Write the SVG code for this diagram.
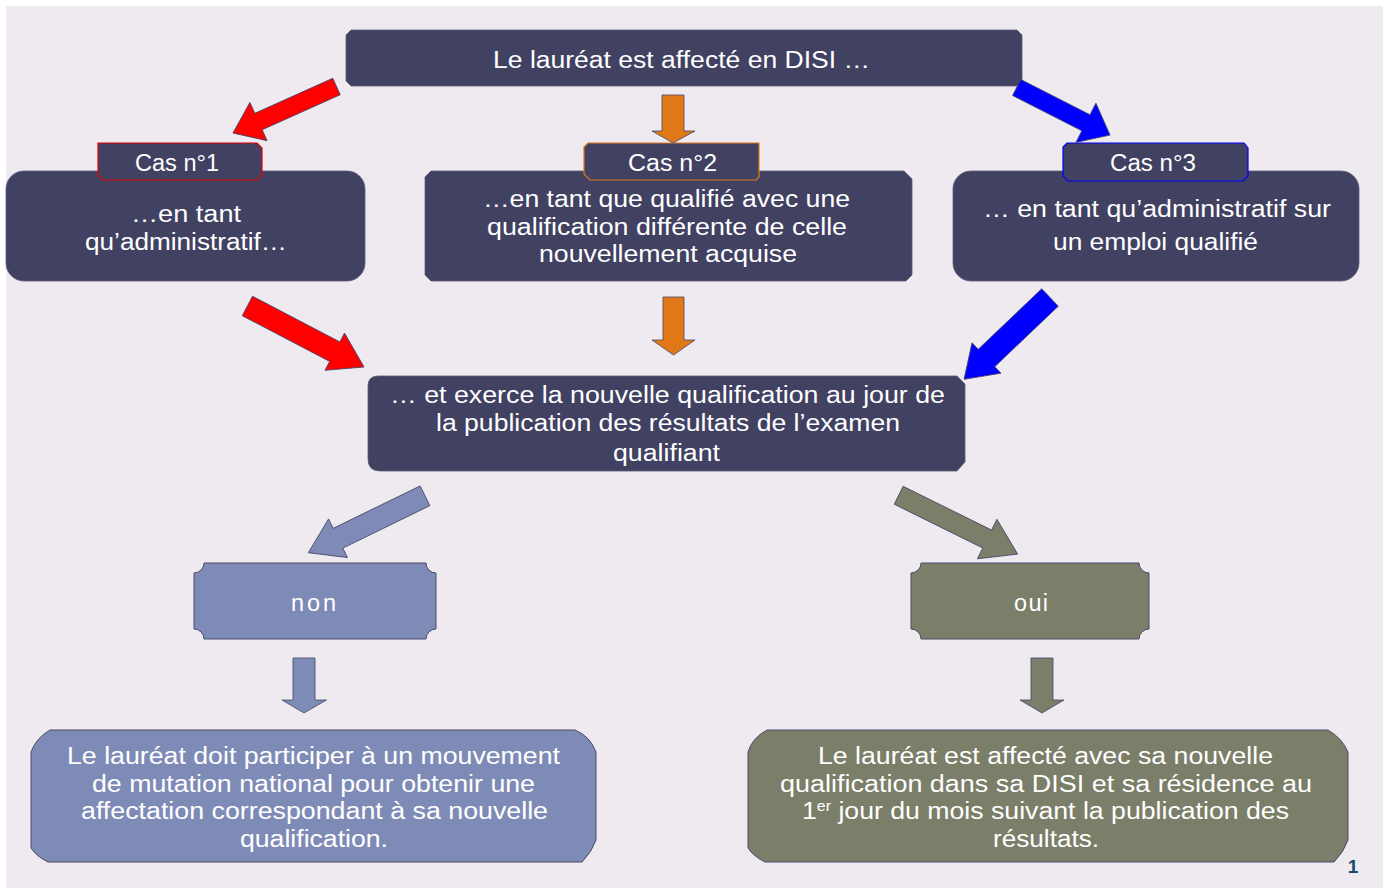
<svg xmlns="http://www.w3.org/2000/svg" width="1388" height="888" viewBox="0 0 1388 888">
<style>
.dark{fill:#414162;stroke:#5c5c7c;stroke-width:0.8}
.blue{fill:#7f8bb7;stroke:#4a4a6a;stroke-width:1}
.olive{fill:#7b7e68;stroke:#4a4a6a;stroke-width:1}
.t{font-family:"Liberation Sans",Arial,sans-serif;font-size:23.5px;fill:#ffffff;text-anchor:middle}
.arr{stroke:#45456a;stroke-width:0.8}
</style>
<rect x="0" y="0" width="1388" height="888" fill="#ffffff"/>
<rect x="6" y="6" width="1377" height="882" fill="#efeaef"/>

<g id="top">
<path class="dark" d="M351,30 H1017 L1022,35 V81 L1017,86 H351 L346,81 V35 Z"/>
<text class="t" x="681.5" y="68" textLength="377" lengthAdjust="spacingAndGlyphs">Le lauréat est affecté en DISI …</text>
</g>

<g id="cas1">
<rect class="dark" x="6" y="171" width="359" height="110" rx="18" ry="18"/>
<text class="t" x="186" y="222" textLength="110" lengthAdjust="spacingAndGlyphs">…en tant</text>
<text class="t" x="186" y="250" textLength="202" lengthAdjust="spacingAndGlyphs">qu’administratif…</text>
<path class="dark" style="stroke:#e00000;stroke-width:1.2" d="M98,143 H257 L262,148 V175 L257,180 H103 L98,175 Z"/>
<text class="t" x="177" y="171" textLength="84" lengthAdjust="spacingAndGlyphs">Cas n°1</text>
</g>

<g id="cas2">
<path class="dark" d="M431,171 H904 L912,179 V275 L906,281 H431 L425,275 V177 Z"/>
<text class="t" x="666.5" y="207" textLength="367" lengthAdjust="spacingAndGlyphs">…en tant que qualifié avec une</text>
<text class="t" x="667" y="235" textLength="360" lengthAdjust="spacingAndGlyphs">qualification différente de celle</text>
<text class="t" x="668" y="262" textLength="258" lengthAdjust="spacingAndGlyphs">nouvellement acquise</text>
<path class="dark" style="stroke:#e07818;stroke-width:1.2" d="M588,143 H759 V177 L756,180 H590 L584,174 V147 Z"/>
<text class="t" x="672.5" y="171" textLength="89" lengthAdjust="spacingAndGlyphs">Cas n°2</text>
</g>

<g id="cas3">
<rect class="dark" x="953" y="171" width="406" height="110" rx="18" ry="18"/>
<text class="t" x="1157" y="217" textLength="348" lengthAdjust="spacingAndGlyphs">… en tant qu’administratif sur</text>
<text class="t" x="1155.5" y="250" textLength="205" lengthAdjust="spacingAndGlyphs">un emploi qualifié</text>
<path class="dark" style="stroke:#0000ff;stroke-width:1.2" d="M1067,143 H1244 L1248,148 V176 L1243,181 H1068 L1063,176 V147 Z"/>
<text class="t" x="1153" y="171" textLength="86" lengthAdjust="spacingAndGlyphs">Cas n°3</text>
</g>

<g id="exerce">
<path class="dark" d="M378,376 H957 L965,384 V462 L957,471 H380 Q368,471 368,459 V386 Q368,376 378,376 Z"/>
<text class="t" x="667.5" y="403" textLength="555" lengthAdjust="spacingAndGlyphs">… et exerce la nouvelle qualification au jour de</text>
<text class="t" x="668" y="431" textLength="464" lengthAdjust="spacingAndGlyphs">la publication des résultats de l’examen</text>
<text class="t" x="666.5" y="461" textLength="107" lengthAdjust="spacingAndGlyphs">qualifiant</text>
</g>

<g id="non">
<path class="blue" d="M204,563 H426 A10,10 0 0 0 436,573 V629 A10,10 0 0 0 426,639 H204 A10,10 0 0 0 194,629 V573 A10,10 0 0 0 204,563 Z"/>
<text class="t" x="313.5" y="611" textLength="45" lengthAdjust="spacing">non</text>
</g>

<g id="oui">
<path class="olive" d="M921,563 H1139 A10,10 0 0 0 1149,573 V629 A10,10 0 0 0 1139,639 H921 A10,10 0 0 0 911,629 V573 A10,10 0 0 0 921,563 Z"/>
<text class="t" x="1031" y="611" textLength="34" lengthAdjust="spacing">oui</text>
</g>

<g id="mutation">
<path class="blue" d="M50,730 H575 Q590,736 596,752 V840 Q592,852 582,862 H48 Q36,856 31,848 V752 Q36,738 50,730 Z"/>
<text class="t" x="313.5" y="764" textLength="493" lengthAdjust="spacingAndGlyphs">Le lauréat doit participer à un mouvement</text>
<text class="t" x="313.5" y="792" textLength="443" lengthAdjust="spacingAndGlyphs">de mutation national pour obtenir une</text>
<text class="t" x="314.5" y="819" textLength="467" lengthAdjust="spacingAndGlyphs">affectation correspondant à sa nouvelle</text>
<text class="t" x="314" y="847" textLength="148" lengthAdjust="spacingAndGlyphs">qualification.</text>
</g>

<g id="affecte">
<path class="olive" d="M767,730 H1328 Q1342,738 1348,752 V840 Q1344,852 1334,862 H765 Q753,856 748,848 V752 Q752,738 767,730 Z"/>
<text class="t" x="1045.5" y="764" textLength="455" lengthAdjust="spacingAndGlyphs">Le lauréat est affecté avec sa nouvelle</text>
<text class="t" x="1046" y="792" textLength="532" lengthAdjust="spacingAndGlyphs">qualification dans sa DISI et sa résidence au</text>
<text class="t" x="1045.5" y="819" textLength="487" lengthAdjust="spacingAndGlyphs">1<tspan font-size="14" dy="-8">er</tspan><tspan dy="8"> jour du mois suivant la publication des</tspan></text>
<text class="t" x="1046" y="847" textLength="106" lengthAdjust="spacingAndGlyphs">résultats.</text>
</g>

<g id="connectors">
<path class="arr" fill="#ff0000" transform="translate(336.5,86.5) rotate(155.8)" d="M0,-9 H85.5 V-21 L113.5,0 L85.5,21 V9 H0 Z"/>
<path class="arr" fill="#e07818" d="M662,95 H684 V131 H695 L673,143 L652,131 H662 Z"/>
<path class="arr" fill="#0000ff" transform="translate(1016.7,87.5) rotate(27)" d="M0,-9 H77.7 V-22 L104.7,0 L77.7,22 V9 H0 Z"/>
<path class="arr" fill="#ff0000" transform="translate(247.4,306) rotate(27.6)" d="M0,-11 H98.6 V-21 L131.6,0 L98.6,21 V11 H0 Z"/>
<path class="arr" fill="#e07818" d="M663,297 H684 V340 H695 L673.5,355 L652,340 H663 Z"/>
<path class="arr" fill="#0000ff" transform="translate(1050,297.5) rotate(136.4)" d="M0,-12 H87.7 V-21 L118.7,0 L87.7,21 V12 H0 Z"/>
<path class="arr" fill="#7f8bb7" transform="translate(425,495.8) rotate(154)" d="M0,-11 H96.8 V-21.5 L129.8,0 L96.8,21.5 V11 H0 Z"/>
<path class="arr" fill="#7b7e68" transform="translate(898.7,495.3) rotate(26.3)" d="M0,-10 H98.7 V-22 L132.7,0 L98.7,22 V10 H0 Z"/>
<path class="arr" fill="#7f8bb7" d="M293,658 H315 V700 H326.5 L304,713 L282,700 H293 Z"/>
<path class="arr" fill="#7b7e68" d="M1031,658 H1053 V700 H1064 L1042,713 L1020,700 H1031 Z"/>
</g>

<text x="1353" y="873" font-family="Liberation Sans,Arial,sans-serif" font-size="19" font-weight="bold" fill="#1b4a6b" text-anchor="middle">1</text>
</svg>
